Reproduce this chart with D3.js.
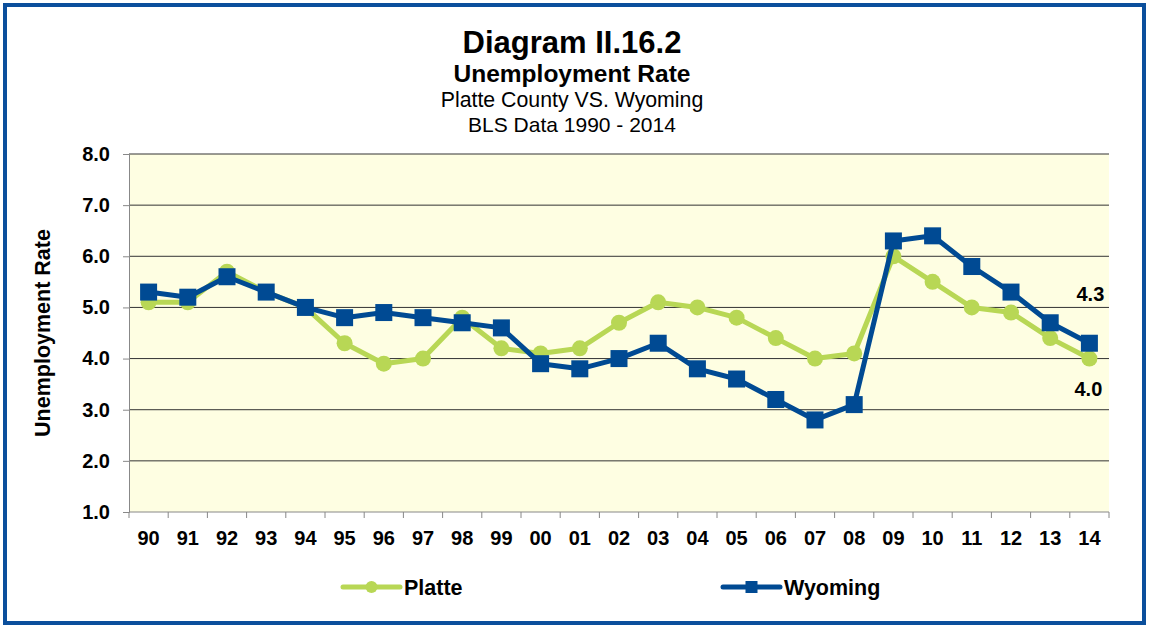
<!DOCTYPE html>
<html>
<head>
<meta charset="utf-8">
<script src="https://cdn.jsdelivr.net/npm/d3@7"></script>
<style>
  body { margin: 0; background: #fff; }
  text { font-family: "Liberation Sans", Arial, sans-serif; }
</style>
</head>
<body>
<svg id="chart" width="1149" height="627"></svg>
<script>
// Unemployment rate, Platte County vs. Wyoming

var years = ["90","91","92","93","94","95","96","97","98","99","00","01","02",
             "03","04","05","06","07","08","09","10","11","12","13","14"];
var platte  = [5.1,5.1,5.7,5.3,5.0,4.3,3.9,4.0,4.8,4.2,4.1,4.2,4.7,
               5.1,5.0,4.8,4.4,4.0,4.1,6.0,5.5,5.0,4.9,4.4,4.0];
var wyoming = [5.3,5.2,5.6,5.3,5.0,4.8,4.9,4.8,4.7,4.6,3.9,3.8,4.0,
               4.3,3.8,3.6,3.2,2.8,3.1,6.3,6.4,5.8,5.3,4.7,4.3];
var yTicks = [1,2,3,4,5,6,7,8];

var GREEN = "#b8d755", BLUE = "#004a93";

var svg = d3.select("#chart");

// outer frame
svg.append("rect")
  .attr("x", 5).attr("y", 5).attr("width", 1139).attr("height", 618)
  .attr("fill", "none").attr("stroke", "#0b4f9c").attr("stroke-width", 4);

var m = { left: 129, right: 1109, top: 154, bottom: 512 };

var x = d3.scaleBand().domain(years).range([m.left, m.right]);
var y = d3.scaleLinear().domain([1, 8]).range([m.bottom, m.top]);

svg.append("rect")
  .attr("x", m.left).attr("y", m.top)
  .attr("width", m.right - m.left).attr("height", m.bottom - m.top)
  .attr("fill", "#fefee2");

// gridlines
svg.append("g").selectAll("line")
  .data(yTicks.slice(1))
  .join("line")
  .attr("x1", m.left).attr("x2", m.right)
  .attr("y1", function (d) { return y(d); })
  .attr("y2", function (d) { return y(d); })
  .attr("stroke", "#333").attr("stroke-width", 1);

// y axis
var yAxis = svg.append("g")
  .attr("transform", "translate(" + m.left + ",0)")
  .call(d3.axisLeft(y).tickValues(yTicks).tickFormat(d3.format(".1f")).tickSize(6).tickPadding(13));
yAxis.select(".domain").attr("stroke", "#888");
yAxis.selectAll(".tick line").attr("stroke", "#888");
yAxis.selectAll("text")
  .attr("font-size", 20).attr("font-weight", "bold").attr("fill", "#000")
  .style("font-family", "Liberation Sans, Arial, sans-serif");

// x axis: ticks on category boundaries
var xAxis = svg.append("g")
  .attr("transform", "translate(0," + m.bottom + ")");
xAxis.append("line")
  .attr("x1", m.left).attr("x2", m.right)
  .attr("stroke", "#888");
xAxis.selectAll(".bnd")
  .data(years.concat(["end"]))
  .join("line")
  .attr("class", "bnd")
  .attr("x1", function (d, i) { return m.left + i * x.bandwidth(); })
  .attr("x2", function (d, i) { return m.left + i * x.bandwidth(); })
  .attr("y1", 0).attr("y2", 6)
  .attr("stroke", "#888");
xAxis.selectAll(".lbl")
  .data(years)
  .join("text")
  .attr("class", "lbl")
  .attr("x", function (d) { return x(d) + x.bandwidth() / 2; })
  .attr("y", 33)
  .attr("text-anchor", "middle")
  .attr("font-size", 20).attr("font-weight", "bold")
  .text(function (d) { return d; });

// y title
svg.append("text")
  .attr("transform", "translate(50," + ((m.top + m.bottom) / 2) + ") rotate(-90)")
  .attr("text-anchor", "middle")
  .attr("font-size", 21.5).attr("font-weight", "bold")
  .text("Unemployment Rate");

// titles
var cx = 572;
svg.append("text").attr("x", cx).attr("y", 53).attr("text-anchor", "middle")
  .attr("font-size", 31).attr("font-weight", "bold").text("Diagram II.16.2");
svg.append("text").attr("x", cx).attr("y", 82).attr("text-anchor", "middle")
  .attr("font-size", 24.5).attr("font-weight", "bold").text("Unemployment Rate");
svg.append("text").attr("x", cx).attr("y", 107).attr("text-anchor", "middle")
  .attr("font-size", 21.3).text("Platte County VS. Wyoming");
svg.append("text").attr("x", cx).attr("y", 132).attr("text-anchor", "middle")
  .attr("font-size", 21).text("BLS Data 1990 - 2014");

var cxOf = function (d, i) { return x(years[i]) + x.bandwidth() / 2; };
var line = d3.line()
  .x(function (d, i) { return cxOf(d, i); })
  .y(function (d) { return y(d); });

// Platte
svg.append("path").datum(platte)
  .attr("d", line).attr("fill", "none")
  .attr("stroke", GREEN).attr("stroke-width", 5).attr("stroke-linejoin", "round");
svg.append("g").selectAll("circle")
  .data(platte).join("circle")
  .attr("cx", cxOf).attr("cy", function (d) { return y(d); })
  .attr("r", 8).attr("fill", GREEN);

// Wyoming
svg.append("path").datum(wyoming)
  .attr("d", line).attr("fill", "none")
  .attr("stroke", BLUE).attr("stroke-width", 5).attr("stroke-linejoin", "round");
svg.append("g").selectAll("rect")
  .data(wyoming).join("rect")
  .attr("x", function (d, i) { return cxOf(d, i) - 8.5; })
  .attr("y", function (d) { return y(d) - 8.5; })
  .attr("width", 17).attr("height", 17).attr("fill", BLUE);

// end labels
var last = years.length - 1;
svg.append("text")
  .attr("x", cxOf(null, last) + 1).attr("y", y(wyoming[last]) - 42)
  .attr("text-anchor", "middle").attr("font-size", 20).attr("font-weight", "bold")
  .text(d3.format(".1f")(wyoming[last]));
svg.append("text")
  .attr("x", cxOf(null, last) - 1).attr("y", y(platte[last]) + 37)
  .attr("text-anchor", "middle").attr("font-size", 20).attr("font-weight", "bold")
  .text(d3.format(".1f")(platte[last]));

// legend
var legend = [
  { name: "Platte", color: GREEN, shape: "circle", x: 343 },
  { name: "Wyoming", color: BLUE, shape: "square", x: 723 }
];
var lg = svg.append("g").selectAll("g").data(legend).join("g")
  .attr("transform", function (d) { return "translate(" + d.x + ",587)"; });
lg.append("line").attr("x1", 0).attr("x2", 57)
  .attr("stroke", function (d) { return d.color; }).attr("stroke-width", 5)
  .attr("stroke-linecap", "round");
lg.filter(function (d) { return d.shape === "circle"; }).append("circle")
  .attr("cx", 28.5).attr("r", 6).attr("fill", function (d) { return d.color; });
lg.filter(function (d) { return d.shape === "square"; }).append("rect")
  .attr("x", 22.5).attr("y", -6).attr("width", 12).attr("height", 12)
  .attr("fill", function (d) { return d.color; });
lg.append("text").attr("x", 61).attr("y", 8)
  .attr("font-size", 21.5).attr("font-weight", "bold")
  .text(function (d) { return d.name; });
</script>
</body>
</html>
